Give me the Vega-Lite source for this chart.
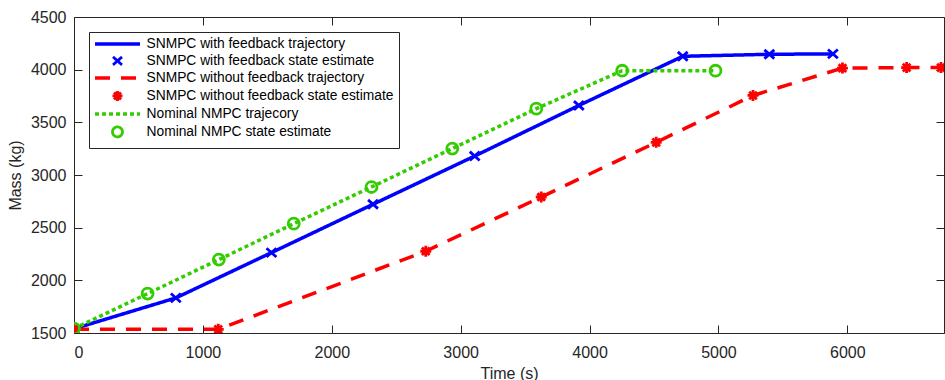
{
  "$schema": "https://vega.github.io/schema/vega-lite/v6.json",
  "width": 870,
  "height": 316,
  "autosize": {"type": "none"},
  "padding": {"left": 74, "top": 17, "right": 1, "bottom": 47},
  "background": "white",
  "datasets": {
    "traj": [
      {"series": "SNMPC with feedback trajectory", "t": 0, "m": 1540},
      {"series": "SNMPC with feedback trajectory", "t": 790, "m": 1833},
      {"series": "SNMPC with feedback trajectory", "t": 1532, "m": 2263},
      {"series": "SNMPC with feedback trajectory", "t": 2320, "m": 2722},
      {"series": "SNMPC with feedback trajectory", "t": 3109, "m": 3180},
      {"series": "SNMPC with feedback trajectory", "t": 3917, "m": 3660},
      {"series": "SNMPC with feedback trajectory", "t": 4723, "m": 4127},
      {"series": "SNMPC with feedback trajectory", "t": 5395, "m": 4146},
      {"series": "SNMPC with feedback trajectory", "t": 5888, "m": 4150},
      {"series": "SNMPC without feedback trajectory", "t": 0, "m": 1535},
      {"series": "SNMPC without feedback trajectory", "t": 1119, "m": 1535},
      {"series": "SNMPC without feedback trajectory", "t": 2729, "m": 2276},
      {"series": "SNMPC without feedback trajectory", "t": 3625, "m": 2791},
      {"series": "SNMPC without feedback trajectory", "t": 4517, "m": 3310},
      {"series": "SNMPC without feedback trajectory", "t": 5268, "m": 3755},
      {"series": "SNMPC without feedback trajectory", "t": 5962, "m": 4015},
      {"series": "SNMPC without feedback trajectory", "t": 6460, "m": 4020},
      {"series": "SNMPC without feedback trajectory", "t": 6750, "m": 4020},
      {"series": "Nominal NMPC trajecory", "t": 0, "m": 1542},
      {"series": "Nominal NMPC trajecory", "t": 571, "m": 1874},
      {"series": "Nominal NMPC trajecory", "t": 1124, "m": 2197},
      {"series": "Nominal NMPC trajecory", "t": 1705, "m": 2538},
      {"series": "Nominal NMPC trajecory", "t": 2308, "m": 2886},
      {"series": "Nominal NMPC trajecory", "t": 2935, "m": 3251},
      {"series": "Nominal NMPC trajecory", "t": 3587, "m": 3630},
      {"series": "Nominal NMPC trajecory", "t": 4253, "m": 3990},
      {"series": "Nominal NMPC trajecory", "t": 4977, "m": 3990}
    ],
    "est": [
      {"series": "SNMPC with feedback state estimate", "t": 0, "m": 1540},
      {"series": "SNMPC with feedback state estimate", "t": 790, "m": 1833},
      {"series": "SNMPC with feedback state estimate", "t": 1532, "m": 2263},
      {"series": "SNMPC with feedback state estimate", "t": 2320, "m": 2722},
      {"series": "SNMPC with feedback state estimate", "t": 3109, "m": 3180},
      {"series": "SNMPC with feedback state estimate", "t": 3917, "m": 3660},
      {"series": "SNMPC with feedback state estimate", "t": 4723, "m": 4127},
      {"series": "SNMPC with feedback state estimate", "t": 5395, "m": 4146},
      {"series": "SNMPC with feedback state estimate", "t": 5888, "m": 4150},
      {"series": "SNMPC without feedback state estimate", "t": 0, "m": 1535},
      {"series": "SNMPC without feedback state estimate", "t": 1119, "m": 1535},
      {"series": "SNMPC without feedback state estimate", "t": 2729, "m": 2276},
      {"series": "SNMPC without feedback state estimate", "t": 3625, "m": 2791},
      {"series": "SNMPC without feedback state estimate", "t": 4517, "m": 3310},
      {"series": "SNMPC without feedback state estimate", "t": 5268, "m": 3755},
      {"series": "SNMPC without feedback state estimate", "t": 5962, "m": 4015},
      {"series": "SNMPC without feedback state estimate", "t": 6460, "m": 4020},
      {"series": "SNMPC without feedback state estimate", "t": 6726, "m": 4020},
      {"series": "Nominal NMPC state estimate", "t": 0, "m": 1542},
      {"series": "Nominal NMPC state estimate", "t": 571, "m": 1874},
      {"series": "Nominal NMPC state estimate", "t": 1124, "m": 2197},
      {"series": "Nominal NMPC state estimate", "t": 1705, "m": 2538},
      {"series": "Nominal NMPC state estimate", "t": 2308, "m": 2886},
      {"series": "Nominal NMPC state estimate", "t": 2935, "m": 3251},
      {"series": "Nominal NMPC state estimate", "t": 3587, "m": 3630},
      {"series": "Nominal NMPC state estimate", "t": 4253, "m": 3990},
      {"series": "Nominal NMPC state estimate", "t": 4977, "m": 3990}
    ]
  },
  "layer": [
    {
      "data": {"name": "traj"},
      "mark": {"type": "line", "strokeCap": "butt", "clip": true},
      "encoding": {
        "x": {
          "field": "t", "type": "quantitative",
          "scale": {"domain": [0, 6750], "nice": false, "zero": false},
          "axis": {"orient": "bottom", "title": "Time (s)", "format": "d", "values": [0, 1000, 2000, 3000, 4000, 5000, 6000], "labelPadding": 19, "titlePadding": 5}
        },
        "y": {
          "field": "m", "type": "quantitative",
          "scale": {"domain": [1500, 4500], "nice": false, "zero": false},
          "axis": {"orient": "left", "title": "Mass (kg)", "format": "d", "values": [1500, 2000, 2500, 3000, 3500, 4000, 4500], "labelPadding": 16, "titlePadding": 7}
        },
        "color": {
          "field": "series", "type": "nominal",
          "scale": {
            "domain": ["SNMPC with feedback trajectory", "SNMPC with feedback state estimate", "SNMPC without feedback trajectory", "SNMPC without feedback state estimate", "Nominal NMPC trajecory", "Nominal NMPC state estimate"],
            "range": ["#0000FF", "#0000FF", "#FF0000", "#FF0000", "#33CC00", "#33CC00"]
          },
          "legend": {"title": null}
        },
        "strokeDash": {
          "field": "series", "type": "nominal",
          "scale": {
            "domain": ["SNMPC with feedback trajectory", "SNMPC with feedback state estimate", "SNMPC without feedback trajectory", "SNMPC without feedback state estimate", "Nominal NMPC trajecory", "Nominal NMPC state estimate"],
            "range": [[1, 0], [1, 0], [15, 11], [1, 0], [4, 3], [1, 0]]
          },
          "legend": {"title": null}
        },
        "strokeWidth": {
          "field": "series", "type": "nominal",
          "scale": {
            "type": "ordinal",
            "domain": ["SNMPC with feedback trajectory", "SNMPC with feedback state estimate", "SNMPC without feedback trajectory", "SNMPC without feedback state estimate", "Nominal NMPC trajecory", "Nominal NMPC state estimate"],
            "range": [3.5, 2.8, 3.5, 2.8, 3.5, 2.8]
          },
          "legend": {"title": null}
        }
      }
    },
    {
      "data": {"name": "est"},
      "mark": {"type": "point", "filled": false, "size": 120, "clip": true, "opacity": 1},
      "encoding": {
        "x": {
          "field": "t", "type": "quantitative",
          "scale": {"domain": [0, 6750], "nice": false, "zero": false},
          "axis": {"orient": "top", "title": null, "labels": false, "values": [0, 1000, 2000, 3000, 4000, 5000, 6000]}
        },
        "y": {
          "field": "m", "type": "quantitative",
          "scale": {"domain": [1500, 4500], "nice": false, "zero": false},
          "axis": {"orient": "right", "title": null, "labels": false, "values": [1500, 2000, 2500, 3000, 3500, 4000, 4500]}
        },
        "color": {
          "field": "series", "type": "nominal",
          "scale": {
            "domain": ["SNMPC with feedback trajectory", "SNMPC with feedback state estimate", "SNMPC without feedback trajectory", "SNMPC without feedback state estimate", "Nominal NMPC trajecory", "Nominal NMPC state estimate"],
            "range": ["#0000FF", "#0000FF", "#FF0000", "#FF0000", "#33CC00", "#33CC00"]
          },
          "legend": {"title": null}
        },
        "shape": {
          "field": "series", "type": "nominal",
          "scale": {
            "domain": ["SNMPC with feedback trajectory", "SNMPC with feedback state estimate", "SNMPC without feedback trajectory", "SNMPC without feedback state estimate", "Nominal NMPC trajecory", "Nominal NMPC state estimate"],
            "range": ["M-4.5,0L4.5,0", "M-0.9,-0.8L0.9,0.8M-0.9,0.8L0.9,-0.8", "M-4.5,0L4.5,0", "M-1,0L1,0M0,-1L0,1M-0.7,-0.7L0.7,0.7M-0.7,0.7L0.7,-0.7", "M-4.5,0L4.5,0", "circle"]
          },
          "legend": {"title": null}
        },
        "strokeWidth": {
          "field": "series", "type": "nominal",
          "scale": {
            "type": "ordinal",
            "domain": ["SNMPC with feedback trajectory", "SNMPC with feedback state estimate", "SNMPC without feedback trajectory", "SNMPC without feedback state estimate", "Nominal NMPC trajecory", "Nominal NMPC state estimate"],
            "range": [3.5, 2.8, 3.5, 2.8, 3.5, 2.8]
          },
          "legend": {"title": null}
        }
      }
    }
  ],
  "resolve": {"axis": {"x": "independent", "y": "independent"}},
  "config": {
    "view": {"stroke": null},
    "axis": {
      "labelFont": "Liberation Sans", "titleFont": "Liberation Sans",
      "labelFontSize": 16, "titleFontSize": 16, "titleFontWeight": "normal",
      "labelColor": "#262626", "titleColor": "#262626",
      "domainColor": "#262626", "tickColor": "#262626",
      "domainWidth": 1, "tickWidth": 1, "tickSize": -8, "grid": false
    },
    "legend": {
      "orient": "top-left", "offset": 15, "padding": 5, "rowPadding": 0,
      "labelFont": "Liberation Sans", "labelFontSize": 13.8, "labelColor": "#000000",
      "labelLimit": 400, "strokeColor": "#262626", "fillColor": "white",
      "symbolOffset": 16.5, "labelOffset": 22, "symbolSize": 100, "symbolType": "stroke"
    }
  }
}
